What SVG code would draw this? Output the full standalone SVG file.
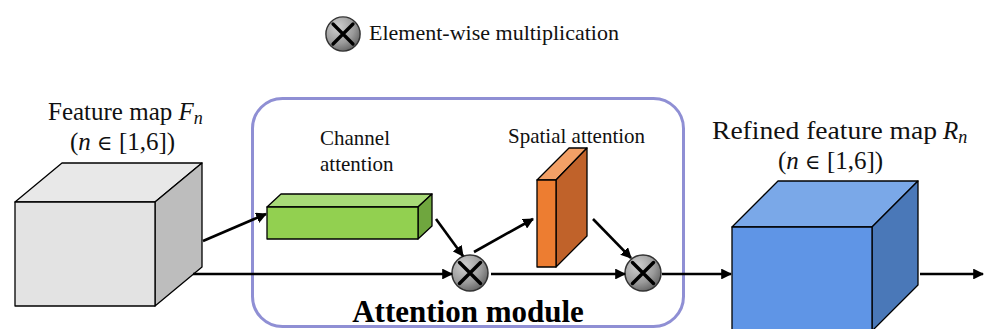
<svg xmlns="http://www.w3.org/2000/svg" width="984" height="329" viewBox="0 0 984 329">
<defs>
<radialGradient id="gball" cx="0.35" cy="0.3" r="0.8">
<stop offset="0" stop-color="#d0d0d0"/>
<stop offset="0.6" stop-color="#9a9a9a"/>
<stop offset="1" stop-color="#5a5a5a"/>
</radialGradient>
<marker id="ah" viewBox="0 0 10 10" refX="9" refY="5" markerWidth="4.2" markerHeight="4.2" orient="auto" markerUnits="strokeWidth">
<path d="M0,0 L10,5 L0,10 z" fill="#000"/>
</marker>
<g id="mul">
<circle r="18" fill="url(#gball)" stroke="#333" stroke-width="1.5"/>
<path d="M-10.5,-10.5 L10.5,10.5 M10.5,-10.5 L-10.5,10.5" stroke="#000" stroke-width="3.5" stroke-linecap="round"/>
</g>
</defs>
<style>
.face{stroke:#000;stroke-width:1.3;stroke-linejoin:round}
.lbl{fill:#111}
.math{font-style:italic}
.conn{stroke:#000;stroke-width:2.6;fill:none}
</style>
<rect width="984" height="329" fill="#fff"/>

<g id="legend">
<use href="#mul" transform="translate(343 34) scale(0.95)"/>
<text class="lbl" font-family="'Liberation Serif', 'Times New Roman', serif" x="369" y="40" font-size="21" textLength="250" lengthAdjust="spacingAndGlyphs">Element-wise multiplication</text>
</g>

<g id="attention-module">
<rect x="252.5" y="98.5" width="431" height="228" rx="30" fill="none" stroke="#8f8fd4" stroke-width="3"/>
<text font-family="'Liberation Serif', 'Times New Roman', serif" x="468" y="322" font-size="31" font-weight="bold" text-anchor="middle" fill="#000">Attention module</text>
</g>

<g id="feature-map">
<text class="lbl" font-family="'Liberation Serif', 'Times New Roman', serif" x="48" y="120" font-size="25">Feature map <tspan class="math">F</tspan><tspan class="math" font-size="18" dy="4">n</tspan></text>
<text class="lbl" font-family="'Liberation Serif', 'DejaVu Serif', serif" x="70" y="150" font-size="25">(<tspan class="math">n</tspan> <tspan font-family="'DejaVu Serif', serif" font-size="21">∈</tspan> [1,6])</text>
<polygon class="face" points="15,202 62,163 202,163 155,202" fill="#e8e8e8"/>
<polygon class="face" points="155,202 202,163 202,267 155,306" fill="#bdbdbd"/>
<rect class="face" x="15" y="202" width="140" height="104" fill="#e3e3e3"/>
</g>

<g id="channel-attention">
<text class="lbl" font-family="'Liberation Serif', 'Times New Roman', serif" x="320" y="145" font-size="21">Channel</text>
<text class="lbl" font-family="'Liberation Serif', 'Times New Roman', serif" x="320" y="171" font-size="21">attention</text>
<polygon class="face" points="267,207 281,194 432,194 418,207" fill="#a8da78"/>
<polygon class="face" points="418,207 432,194 432,226 418,239" fill="#6fa63e"/>
<rect class="face" x="267" y="207" width="151" height="32" fill="#92d050"/>
</g>

<g id="spatial-attention">
<text class="lbl" font-family="'Liberation Serif', 'Times New Roman', serif" x="508" y="143" font-size="21">Spatial attention</text>
<polygon class="face" points="537,180 569,148 587,148 556,180" fill="#f2a066"/>
<polygon class="face" points="556,180 587,148 587,236 556,267" fill="#c0622a"/>
<rect class="face" x="537" y="180" width="19" height="87" fill="#ed7d31"/>
</g>

<g id="mul1"><use href="#mul" x="470" y="273"/></g>
<g id="mul2"><use href="#mul" x="643" y="273"/></g>

<g id="refined-feature-map">
<text class="lbl" font-family="'Liberation Serif', 'Times New Roman', serif" x="712" y="139" font-size="25" textLength="225" lengthAdjust="spacingAndGlyphs">Refined feature map</text>
<text class="lbl" font-family="'Liberation Serif', 'Times New Roman', serif" x="943" y="139" font-size="25"><tspan class="math">R</tspan><tspan class="math" font-size="18" dy="4">n</tspan></text>
<text class="lbl" font-family="'Liberation Serif', 'DejaVu Serif', serif" x="778" y="169" font-size="25">(<tspan class="math">n</tspan> <tspan font-family="'DejaVu Serif', serif" font-size="21">∈</tspan> [1,6])</text>
<polygon class="face" points="732,227 778,181 918,181 872,227" fill="#7aa8e8"/>
<polygon class="face" points="872,227 918,181 918,285 872,331" fill="#4a78b8"/>
<rect class="face" x="732" y="227" width="140" height="104" fill="#5f95e6"/>
</g>

<g id="connectors">
<line class="conn" x1="203" y1="241" x2="266" y2="214" marker-end="url(#ah)"/>
<line class="conn" x1="193" y1="274" x2="452" y2="274" marker-end="url(#ah)"/>
<line class="conn" x1="436" y1="219" x2="463" y2="256" marker-end="url(#ah)"/>
<line class="conn" x1="474" y1="252" x2="533" y2="219" marker-end="url(#ah)"/>
<line class="conn" x1="593" y1="219" x2="631" y2="258" marker-end="url(#ah)"/>
<line class="conn" x1="491" y1="274" x2="625" y2="274" marker-end="url(#ah)"/>
<line class="conn" x1="662" y1="274" x2="731" y2="274" marker-end="url(#ah)"/>
<line class="conn" x1="920" y1="274" x2="983" y2="274" marker-end="url(#ah)"/>
</g>
</svg>
